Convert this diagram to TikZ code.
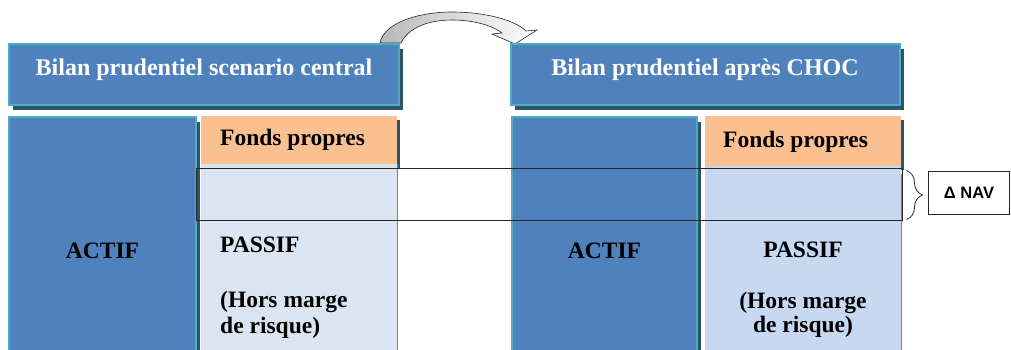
\documentclass[tikz,border=0pt]{standalone}
\usepackage{fontspec}
\setmainfont{Liberation Serif}
\newfontfamily\navfont{Liberation Sans}
\usetikzlibrary{shadows,decorations.pathreplacing}

\definecolor{boxblue}{HTML}{4F81BD}
\definecolor{boxedge}{HTML}{4BACC6}
\definecolor{boxshade}{HTML}{2E5566}
\definecolor{fpfill}{HTML}{FAC090}
\definecolor{passL}{HTML}{DBE5F1}
\definecolor{passR}{HTML}{C6D9F1}
\definecolor{passedge}{HTML}{C0702A}
\definecolor{inkline}{HTML}{262626}

\begin{document}
\begin{tikzpicture}[x=1pt,y=-1pt,
  cell/.style={anchor=north west, inner sep=0pt, outer sep=0pt},
  bluebox/.style={cell, draw=boxedge, line width=2pt, fill=boxblue,
    drop shadow={shadow xshift=3.5pt, shadow yshift=-5pt, opacity=1, fill=boxshade}},
  fpbox/.style={cell, fill=fpfill,
    drop shadow={shadow xshift=3pt, shadow yshift=-4pt, opacity=1, fill=boxshade}},
  passbox/.style={cell},
  title/.style={anchor=base, text=white, font=\bfseries\fontsize{24}{28}\selectfont},
  body/.style={font=\bfseries\fontsize{23.5}{29}\selectfont, text=black, inner sep=0pt},
  frame/.style={cell, draw=inkline, line width=1pt}
]
\clip (0,0) rectangle (1011,349);

% curved transition arrow between the two balance sheets
\draw[inkline, line width=0.6pt, left color=gray!55, right color=white]
  (380,43) .. controls (384,22) and (420,12) .. (452,12)
  .. controls (485,12) and (515,20) .. (526,31)
  -- (537,30) -- (515,44) -- (492,34) -- (502,33)
  .. controls (490,24) and (470,20) .. (452,20)
  .. controls (428,20) and (408,28) .. (401,43) -- cycle;

% headers
\node[bluebox, minimum width=390pt, minimum height=61pt] (hdrL) at (9,44) {};
\node[bluebox, minimum width=389pt, minimum height=61pt] (hdrR) at (511,44) {};
\node[title] (tL) at (204,75) {Bilan prudentiel scenario central};
\node[title] (tR) at (705,75) {Bilan prudentiel après CHOC};

% central scenario balance sheet
\node[bluebox, minimum width=187pt, minimum height=260pt] (actL) at (9,117) {};
\node[fpbox, minimum width=196pt, minimum height=48pt] (fpL) at (201,116) {};
\node[passbox, fill=passL, minimum width=196pt, minimum height=200pt] (paL) at (201,164) {};
\draw[passedge, line width=1pt] (paL.north east) -- (paL.south east);

% shocked balance sheet
\node[bluebox, minimum width=185pt, minimum height=260pt] (actR) at (512,117) {};
\node[fpbox, minimum width=196pt, minimum height=50pt] (fpR) at (705,116) {};
\node[passbox, fill=passR, minimum width=196pt, minimum height=200pt] (paR) at (705,166) {};
\draw[passedge, line width=1pt] ([yshift=-8pt]paR.north east) -- (paR.south east);

% texts
\node[body, anchor=base] (aL) at (102.5,258) {ACTIF};
\node[body, anchor=base west] (fL) at (220,145) {Fonds propres};
\node[body, anchor=base west] (pL) at (220,252) {PASSIF};
\node[body, anchor=base west] (hL1) at (220,307) {(Hors marge};
\node[body, anchor=base west] (hL2) at (220,333) {de risque)};

\node[body, anchor=base] (aR) at (604.5,258) {ACTIF};
\node[body, anchor=base west] (fR) at (723,147) {Fonds propres};
\node[body, anchor=base] (pR) at (803,257) {PASSIF};
\node[body, anchor=base] (hR1) at (803,308) {(Hors marge};
\node[body, anchor=base] (hR2) at (803,332) {de risque)};

% NAV band, brace and label
\node[frame, minimum width=706pt, minimum height=52pt] (band) at (196.5,168.5) {};
\draw[inkline, line width=0.8pt, decorate, decoration={brace, amplitude=16pt, aspect=0.5}]
  ([xshift=4pt,yshift=-2pt]band.north east) -- ([xshift=4pt,yshift=1pt]band.south east);
\node[frame, minimum width=81pt, minimum height=43pt,
  font=\navfont\bfseries\fontsize{16.5}{19}\selectfont] (nav) at (928.5,171.5) {Δ NAV};
\end{tikzpicture}
\end{document}
